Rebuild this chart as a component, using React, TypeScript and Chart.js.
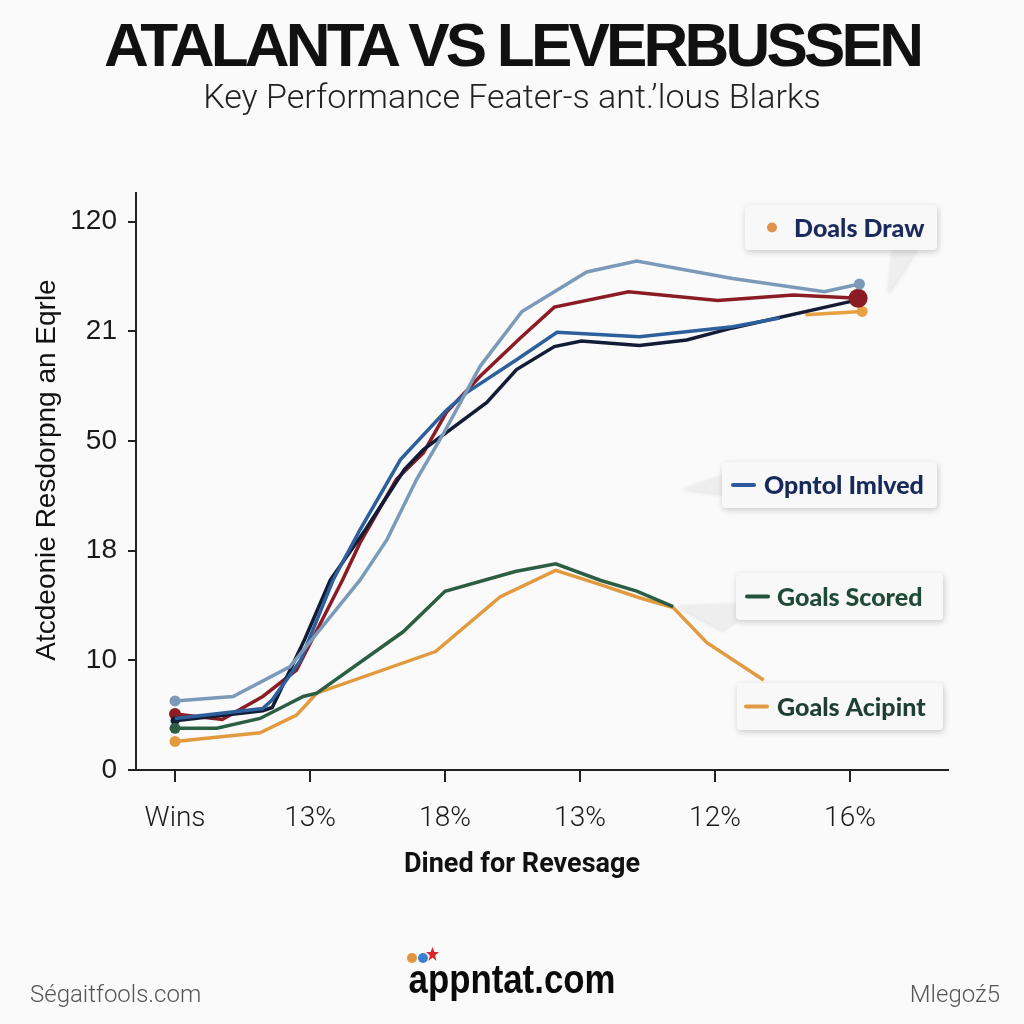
import React, { useEffect, useRef } from "react";
import { Chart, registerables } from "chart.js";

Chart.register(...registerables);

// ---- Data ----
const xLabels = ["Wins", "13%", "18%", "13%", "12%", "16%"];
const yLabels = ["0", "10", "18", "50", "21", "120"];
const xTickVals = [0, 1, 2, 3, 4, 5];
const yTickVals = [0, 1, 2, 3, 4, 5];

const lightBlueX = [0, 0.43, 0.85, 1.37, 1.57, 1.79, 1.99, 2.26, 2.57, 3.05, 3.42, 4.13, 4.81, 5.07];
const lightBlueY = [0.63, 0.67, 0.94, 1.73, 2.1, 2.65, 3.07, 3.68, 4.18, 4.54, 4.64, 4.48, 4.36, 4.43];

const redX = [0, 0.35, 0.65, 0.9, 1.24, 1.37, 1.64, 1.84, 2.01, 2.26, 2.56, 2.81, 3.36, 4.02, 4.58, 5.06];
const redY = [0.51, 0.46, 0.67, 0.91, 1.73, 2.07, 2.65, 2.89, 3.26, 3.59, 3.94, 4.22, 4.36, 4.28, 4.33, 4.3];

const blueX = [0, 0.65, 0.72, 0.93, 1.17, 1.37, 1.67, 2.01, 2.16, 2.53, 2.83, 3.44, 4.13, 4.48];
const blueY = [0.47, 0.56, 0.64, 1.0, 1.73, 2.19, 2.83, 3.28, 3.44, 3.74, 3.99, 3.95, 4.04, 4.12];

const navyX = [0, 0.65, 0.72, 0.96, 1.15, 1.41, 1.7, 1.84, 2.31, 2.53, 2.81, 3.01, 3.44, 3.79, 4.13, 5.0];
const navyY = [0.45, 0.54, 0.57, 1.19, 1.73, 2.19, 2.74, 2.92, 3.35, 3.65, 3.86, 3.91, 3.87, 3.92, 4.03, 4.27];

const greenX = [0, 0.31, 0.63, 0.95, 1.05, 1.69, 2.0, 2.52, 2.82, 3.15, 3.42, 3.69];
const greenY = [0.38, 0.38, 0.47, 0.67, 0.7, 1.26, 1.63, 1.81, 1.88, 1.73, 1.63, 1.49];

const orangeX = [0, 0.63, 0.9, 1.05, 1.93, 2.41, 2.82, 3.15, 3.44, 3.69, 3.94, 4.36];
const orangeY = [0.26, 0.34, 0.5, 0.7, 1.08, 1.58, 1.82, 1.69, 1.57, 1.48, 1.16, 0.82];

const drawX = [4.67, 5.09];
const drawY = [4.15, 4.18];

const legendNames = ["Doals Draw", "Opntol Imlved", "Goals Scored", "Goals Acipint"];

const titleText = "ATALANTA VS LEVERBUSSEN";
const subtitleText = "Key Performance Feater-s ant.\u2019lous Blarks";
const xTitle = "Dined for Revesage";
const yTitle = "Atcdeonie Resdorpng an Eqrle";

const toPoints = (xs: number[], ys: number[]) => xs.map((x, i) => ({ x, y: ys[i] }));
const dots = (n: number, start: number, end: number) =>
  Array.from({ length: n }, (_, i) => (i === 0 ? start : i === n - 1 ? end : 0));

const C = {
  lightBlue: "#7b9aba",
  red: "#8b1c24",
  blue: "#2d5f9c",
  navy: "#121c36",
  green: "#2c5e44",
  orange: "#e29a3f",
};

function rr(ctx: CanvasRenderingContext2D, x: number, y: number, w: number, h: number, r: number) {
  ctx.beginPath();
  ctx.moveTo(x + r, y);
  ctx.lineTo(x + w - r, y);
  ctx.quadraticCurveTo(x + w, y, x + w, y + r);
  ctx.lineTo(x + w, y + h - r);
  ctx.quadraticCurveTo(x + w, y + h, x + w - r, y + h);
  ctx.lineTo(x + r, y + h);
  ctx.quadraticCurveTo(x, y + h, x, y + h - r);
  ctx.lineTo(x, y + r);
  ctx.quadraticCurveTo(x, y, x + r, y);
  ctx.closePath();
}

type Callout = {
  box: [number, number, number, number];
  tail?: number[][];
  marker: "dot" | "line";
  markerColor: string;
  markerX: number;
  textX: number;
  textColor: string;
  text: string;
};

const callouts: Callout[] = [
  {
    box: [745, 205, 192, 45],
    tail: [[893, 248], [918, 248], [888, 294]],
    marker: "dot",
    markerColor: "#e0924a",
    markerX: 772,
    textX: 794,
    textColor: "#1b2a5c",
    text: legendNames[0],
  },
  {
    box: [722, 462, 215, 46],
    tail: [[726, 474], [726, 494], [682, 489]],
    marker: "line",
    markerColor: "#2c5a9a",
    markerX: 733,
    textX: 764,
    textColor: "#16295a",
    text: legendNames[1],
  },
  {
    box: [736, 573, 207, 47],
    tail: [[740, 603], [677, 606], [722, 630], [740, 618]],
    marker: "line",
    markerColor: "#23523c",
    markerX: 747,
    textX: 777,
    textColor: "#1f4a38",
    text: legendNames[2],
  },
  {
    box: [737, 683, 206, 47],
    marker: "line",
    markerColor: "#e09a45",
    markerX: 746,
    textX: 777,
    textColor: "#1f3f35",
    text: legendNames[3],
  },
];

const decorPlugin = {
  id: "decor",
  afterDraw(chart: any) {
    const ctx: CanvasRenderingContext2D = chart.ctx;
    ctx.save();
    // axis titles
    ctx.fillStyle = "#111";
    ctx.textAlign = "center";
    ctx.textBaseline = "middle";
    ctx.font = "bold 27px Roboto, 'Liberation Sans', Arial, sans-serif";
    ctx.fillText(xTitle, 522, 865);
    ctx.save();
    ctx.translate(47, 470);
    ctx.rotate(-Math.PI / 2);
    ctx.font = "500 28px 'Liberation Sans', Arial, sans-serif";
    ctx.fillText(yTitle, 0, 0);
    ctx.restore();

    // callouts
    for (const c of callouts) {
      const [bx, by, bw, bh] = c.box;
      if (c.tail) {
        ctx.save();
        ctx.shadowColor = "rgba(0,0,0,0.12)";
        ctx.shadowBlur = 4;
        ctx.shadowOffsetY = 1;
        ctx.fillStyle = "#eeeeee";
        ctx.beginPath();
        c.tail.forEach((p, i) => (i === 0 ? ctx.moveTo(p[0], p[1]) : ctx.lineTo(p[0], p[1])));
        ctx.closePath();
        ctx.fill();
        ctx.restore();
      }
      ctx.save();
      ctx.shadowColor = "rgba(0,0,0,0.2)";
      ctx.shadowBlur = 6;
      ctx.shadowOffsetX = 1;
      ctx.shadowOffsetY = 2;
      ctx.fillStyle = "#f8f8f8";
      rr(ctx, bx, by, bw, bh, 4);
      ctx.fill();
      ctx.restore();
      const cy = by + bh / 2;
      if (c.marker === "dot") {
        ctx.fillStyle = c.markerColor;
        ctx.beginPath();
        ctx.arc(c.markerX, cy, 5, 0, Math.PI * 2);
        ctx.fill();
      } else {
        ctx.strokeStyle = c.markerColor;
        ctx.lineWidth = 4;
        ctx.lineCap = "round";
        ctx.beginPath();
        ctx.moveTo(c.markerX, cy);
        ctx.lineTo(c.markerX + 21, cy);
        ctx.stroke();
      }
      ctx.fillStyle = c.textColor;
      ctx.textAlign = "left";
      ctx.textBaseline = "middle";
      ctx.font = "900 25px Lato, 'Open Sans', sans-serif";
      ctx.fillText(c.text, c.textX, cy + 1);
    }
    ctx.restore();
  },
};

export default function App() {
  const ref = useRef<HTMLCanvasElement | null>(null);

  useEffect(() => {
    if (!ref.current) return;
    const mk = (label: string, xs: number[], ys: number[], color: string, r0: number, r1: number) => ({
      label,
      data: toPoints(xs, ys),
      borderColor: color,
      backgroundColor: color,
      pointBackgroundColor: color,
      pointBorderWidth: 0,
      borderWidth: 3.5,
      tension: 0,
      pointRadius: dots(xs.length, r0, r1),
      pointHoverRadius: 0,
      showLine: true,
      fill: false,
    });
    const chart = new Chart(ref.current, {
      type: "line",
      data: {
        datasets: [
          mk("Goals Scored", greenX, greenY, C.green, 5.5, 0),
          mk("Goals Acipint", orangeX, orangeY, C.orange, 5.5, 0),
          mk("Series A", lightBlueX, lightBlueY, C.lightBlue, 5.5, 5.5),
          mk("Opntol Imlved", blueX, blueY, C.blue, 0, 0),
          mk("Series B", navyX, navyY, C.navy, 4.5, 0),
          mk("Series C", redX, redY, C.red, 6, 9.5),
          mk("Doals Draw", drawX, drawY, "#e8a040", 0, 5.5),
        ] as any,
      },
      options: {
        animation: false,
        responsive: false,
        maintainAspectRatio: false,
        layout: { padding: { left: 0, right: 76, top: 193, bottom: 0 } },
        plugins: {
          legend: { display: false },
          title: { display: false },
          tooltip: { enabled: false },
        },
        scales: {
          x: {
            type: "linear",
            min: -0.289,
            max: 5.726,
            afterBuildTicks: (scale: any) => {
              scale.ticks = xTickVals.map((v) => ({ value: v }));
            },
            afterFit: (scale: any) => {
              scale.height = 254;
            },
            grid: { drawOnChartArea: false, drawTicks: true, tickLength: 12, color: "#222", lineWidth: 2 },
            border: { display: true, color: "#222", width: 2 },
            ticks: {
              autoSkip: false,
              maxRotation: 0,
              padding: 20,
              color: "#1a1a1a",
              font: { family: "Roboto, 'Liberation Sans', sans-serif", size: 28, weight: "300" as any },
              callback: (_v: any, i: number) => xLabels[i],
            },
          },
          y: {
            type: "linear",
            min: 0,
            max: 5.26,
            afterBuildTicks: (scale: any) => {
              scale.ticks = yTickVals.map((v) => ({ value: v }));
            },
            afterFit: (scale: any) => {
              scale.width = 136;
            },
            grid: { drawOnChartArea: false, drawTicks: true, tickLength: 8, color: "#222", lineWidth: 2 },
            border: { display: true, color: "#222", width: 2 },
            ticks: {
              autoSkip: false,
              padding: 11,
              color: "#1a1a1a",
              font: { family: "'Liberation Sans', Arial, sans-serif", size: 28 },
              callback: (_v: any, i: number) => yLabels[i],
            },
          },
        },
      } as any,
      plugins: [decorPlugin],
    });
    return () => chart.destroy();
  }, []);

  return (
    <div
      style={{
        position: "absolute",
        left: 0,
        top: 0,
        width: 1024,
        height: 1024,
        background: "#fafafa",
        overflow: "hidden",
      }}
    >
      <canvas ref={ref} width={1024} height={1024} style={{ position: "absolute", left: 0, top: 0 }} />
      <div
        style={{
          position: "absolute",
          top: 14,
          left: 0,
          width: 1024,
          textAlign: "center",
          fontFamily: "'Liberation Sans', Arial, sans-serif",
          fontWeight: 900,
          fontSize: 62,
          lineHeight: "62px",
          letterSpacing: "-3.8px",
          color: "#111",
          whiteSpace: "nowrap",
        }}
      >
        {titleText}
      </div>
      <div
        style={{
          position: "absolute",
          top: 79,
          left: 0,
          width: 1024,
          textAlign: "center",
          fontFamily: "Roboto, sans-serif",
          fontWeight: 300,
          fontSize: 34,
          lineHeight: "34px",
          color: "#222",
          whiteSpace: "nowrap",
        }}
      >
        {subtitleText}
      </div>
      <div
        style={{
          position: "absolute",
          top: 982,
          left: 30,
          fontFamily: "Roboto, sans-serif",
          fontWeight: 300,
          fontSize: 24,
          lineHeight: "24px",
          color: "#555",
          whiteSpace: "nowrap",
        }}
      >
        Ségaitfools.com
      </div>
      <div
        style={{
          position: "absolute",
          top: 982,
          right: 24,
          fontFamily: "Roboto, sans-serif",
          fontWeight: 300,
          fontSize: 24,
          lineHeight: "24px",
          color: "#555",
          whiteSpace: "nowrap",
        }}
      >
        Mlegoź5
      </div>
      <span style={{ position: "absolute", left: 407, top: 953, width: 10, height: 10, borderRadius: 5, background: "#e0953f" }} />
      <span style={{ position: "absolute", left: 418, top: 953, width: 10, height: 10, borderRadius: 5, background: "#3a7fd0" }} />
      <span
        style={{
          position: "absolute",
          left: 426,
          top: 947,
          width: 13,
          height: 14,
          background: "#d8262e",
          clipPath: "polygon(50% 0%, 65% 35%, 100% 35%, 70% 60%, 80% 100%, 50% 75%, 20% 100%, 30% 60%, 0% 35%, 35% 35%)",
        }}
      />
      <div
        style={{
          position: "absolute",
          top: 959,
          left: 0,
          width: 1024,
          textAlign: "center",
          fontFamily: "'Liberation Sans', Arial, sans-serif",
          fontWeight: 700,
          fontSize: 40,
          lineHeight: "40px",
          color: "#0a0a0a",
          transform: "scaleX(0.87)",
          whiteSpace: "nowrap",
        }}
      >
        appntat.com
      </div>
    </div>
  );
}
